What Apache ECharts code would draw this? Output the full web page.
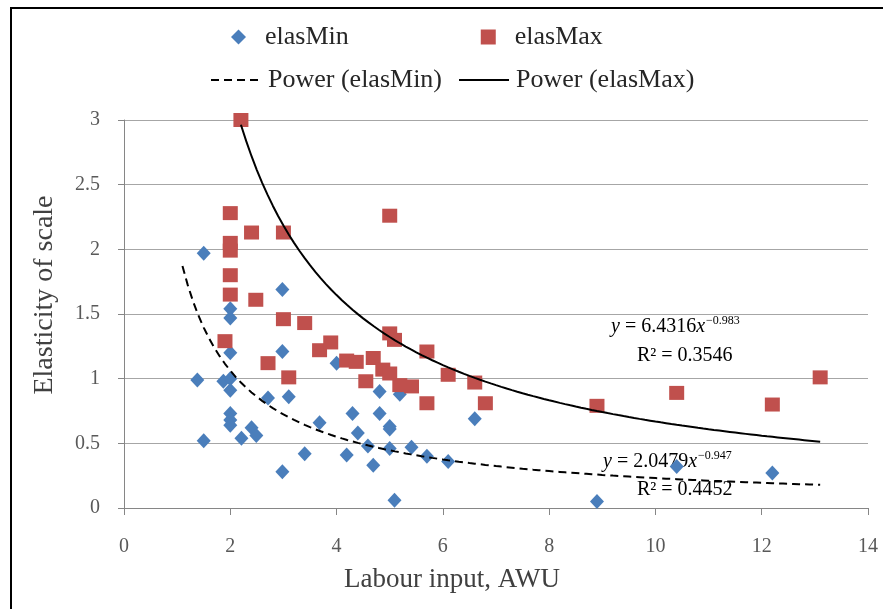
<!DOCTYPE html>
<html>
<head>
<meta charset="utf-8">
<script src="https://cdn.jsdelivr.net/npm/echarts@6/dist/echarts.min.js"></script>
<style>
  html, body { margin: 0; padding: 0; background: #fff; }
  #chart { width: 883px; height: 609px; }
</style>
</head>
<body>
<div id="chart"></div>
<script>
// elasMin points [labour input, elasticity]
var elasMin = [
  [1.5, 1.97], [2.98, 1.69], [2.0, 1.54], [2.0, 1.47], [2.0, 1.2], [2.98, 1.21],
  [1.38, 0.99], [1.87, 0.98], [2.0, 1.0], [2.0, 0.91], [2.71, 0.85], [3.1, 0.86],
  [4.0, 1.12], [2.0, 0.73], [2.0, 0.68], [2.0, 0.64], [2.4, 0.62], [2.49, 0.56],
  [2.21, 0.54], [1.5, 0.52], [3.68, 0.66], [4.3, 0.73], [4.4, 0.58], [3.4, 0.42],
  [4.19, 0.41], [2.98, 0.28], [4.59, 0.48], [4.81, 0.9], [5.19, 0.88], [4.81, 0.73],
  [5.0, 0.63], [5.0, 0.61], [5.0, 0.46], [5.41, 0.47], [5.7, 0.4], [6.1, 0.36],
  [4.69, 0.33], [6.6, 0.69], [5.09, 0.06], [8.9, 0.05], [10.4, 0.32], [12.2, 0.27]
];
// elasMax points
var elasMax = [
  [2.2, 3.0], [2.0, 2.28], [2.4, 2.13], [3.0, 2.13], [2.0, 2.05], [2.0, 1.99],
  [2.0, 1.8], [2.0, 1.65], [2.48, 1.61], [3.0, 1.46], [3.4, 1.43], [1.9, 1.29],
  [3.68, 1.22], [3.89, 1.28], [2.71, 1.12], [3.1, 1.01], [4.19, 1.14], [4.37, 1.13],
  [4.69, 1.16], [4.55, 0.98], [4.87, 1.07], [5.0, 1.04], [5.0, 2.26], [5.0, 1.35],
  [5.09, 1.3], [5.7, 1.21], [5.19, 0.95], [5.41, 0.94], [6.1, 1.03], [6.6, 0.97],
  [5.7, 0.81], [6.8, 0.81], [8.9, 0.79], [10.4, 0.89], [12.2, 0.8], [13.1, 1.01]
];
// power trendlines as printed on the chart: y = a * x^b
var fitMin = { a: 2.0479, b: -0.947, from: 1.1, to: 13.1 };
var fitMax = { a: 6.4316, b: -0.983, from: 2.2, to: 13.1 };
var xTicks = [0, 2, 4, 6, 8, 10, 12, 14];
var yTicks = [0, 0.5, 1, 1.5, 2, 2.5, 3];

function powerCurve(fit) {
  var pts = [];
  for (var i = 0; fit.from + i * 0.1 <= fit.to + 1e-9; i++) {
    var x = fit.from + i * 0.1;
    pts.push([x, fit.a * Math.pow(x, fit.b)]);
  }
  return pts;
}

var serif = "Liberation Serif";
var chart = echarts.init(document.getElementById("chart"));
var option = {
  backgroundColor: "#fff",
  animation: false,
  grid: { left: 124, right: 15, top: 120, bottom: 101 },
  legend: [
    {
      data: ["elasMin", "elasMax"],
      left: 226,
      top: 19,
      itemWidth: 15,
      itemHeight: 15,
      itemGap: 132,
      textStyle: { fontFamily: serif, fontSize: 26, color: "#262626", padding: [0, 0, 0, 14] }
    },
    {
      data: ["Power (elasMin)", "Power (elasMax)"],
      left: 205,
      top: 62,
      itemWidth: 50,
      itemHeight: 14,
      itemGap: 16,
      itemStyle: { opacity: 0 },
      textStyle: { fontFamily: serif, fontSize: 26, color: "#262626", padding: [0, 0, 0, 2] }
    }
  ],
  xAxis: {
    type: "value",
    min: xTicks[0],
    max: xTicks[xTicks.length - 1],
    interval: 2,
    axisLine: { show: true, lineStyle: { color: "#868686", width: 1 } },
    axisTick: { show: true, length: 7, lineStyle: { color: "#868686" } },
    splitLine: { show: false },
    axisLabel: { margin: 29, fontFamily: serif, fontSize: 20, color: "#595959" }
  },
  yAxis: {
    type: "value",
    min: yTicks[0],
    max: yTicks[yTicks.length - 1],
    interval: 0.5,
    axisLine: { show: true, lineStyle: { color: "#868686", width: 1 } },
    axisTick: { show: true, length: 6, lineStyle: { color: "#868686" } },
    splitLine: { show: true, lineStyle: { color: "#a6a6a6", width: 1 } },
    axisLabel: { margin: 24, fontFamily: serif, fontSize: 20, color: "#595959" }
  },
  series: [
    {
      name: "elasMin",
      type: "scatter",
      symbol: "diamond",
      symbolSize: [14, 15],
      itemStyle: { color: "#4a7ebb", opacity: 1 },
      data: elasMin
    },
    {
      name: "elasMax",
      type: "scatter",
      symbol: "rect",
      symbolSize: [15, 14],
      itemStyle: { color: "#c0504d", opacity: 1 },
      data: elasMax
    },
    {
      name: "Power (elasMin)",
      type: "line",
      showSymbol: false,
      symbol: "none",
      lineStyle: { color: "#000", width: 2, type: [8, 5] },
      itemStyle: { color: "#000" },
      data: powerCurve(fitMin)
    },
    {
      name: "Power (elasMax)",
      type: "line",
      showSymbol: false,
      symbol: "none",
      lineStyle: { color: "#000", width: 2 },
      itemStyle: { color: "#000" },
      data: powerCurve(fitMax)
    }
  ],
  graphic: [
    {
      type: "polyline",
      shape: { points: [[11, 609], [11, 8], [883, 8]] },
      style: { stroke: "#000", lineWidth: 2, fill: null }
    },
    {
      type: "text",
      x: 452, y: 580,
      style: {
        text: "Labour input, AWU", align: "center", verticalAlign: "middle",
        font: "27px " + serif, fill: "#404040"
      }
    },
    {
      type: "text",
      x: 45, y: 295,
      rotation: Math.PI / 2,
      style: {
        text: "Elasticity of scale", align: "center", verticalAlign: "middle",
        font: "28px " + serif, fill: "#404040"
      }
    },
    {
      type: "text",
      x: 611, y: 315,
      style: {
        text: "{i|y} = 6.4316{i|x}{s|\u22120.983}",
        font: "20px " + serif, fill: "#000",
        rich: {
          i: { fontStyle: "italic", fontFamily: serif, fontSize: 20 },
          s: { fontFamily: serif, fontSize: 12, verticalAlign: "top", padding: [0, 0, 12, 1] }
        }
      }
    },
    {
      type: "text",
      x: 637, y: 346,
      style: { text: "R\u00b2 = 0.3546", font: "20px " + serif, fill: "#000" }
    },
    {
      type: "text",
      x: 603, y: 450,
      style: {
        text: "{i|y} = 2.0479{i|x}{s|\u22120.947}",
        font: "20px " + serif, fill: "#000",
        rich: {
          i: { fontStyle: "italic", fontFamily: serif, fontSize: 20 },
          s: { fontFamily: serif, fontSize: 12, verticalAlign: "top", padding: [0, 0, 12, 1] }
        }
      }
    },
    {
      type: "text",
      x: 637, y: 480,
      style: { text: "R\u00b2 = 0.4452", font: "20px " + serif, fill: "#000" }
    }
  ]
};
option && chart.setOption(option);
</script>
</body>
</html>
